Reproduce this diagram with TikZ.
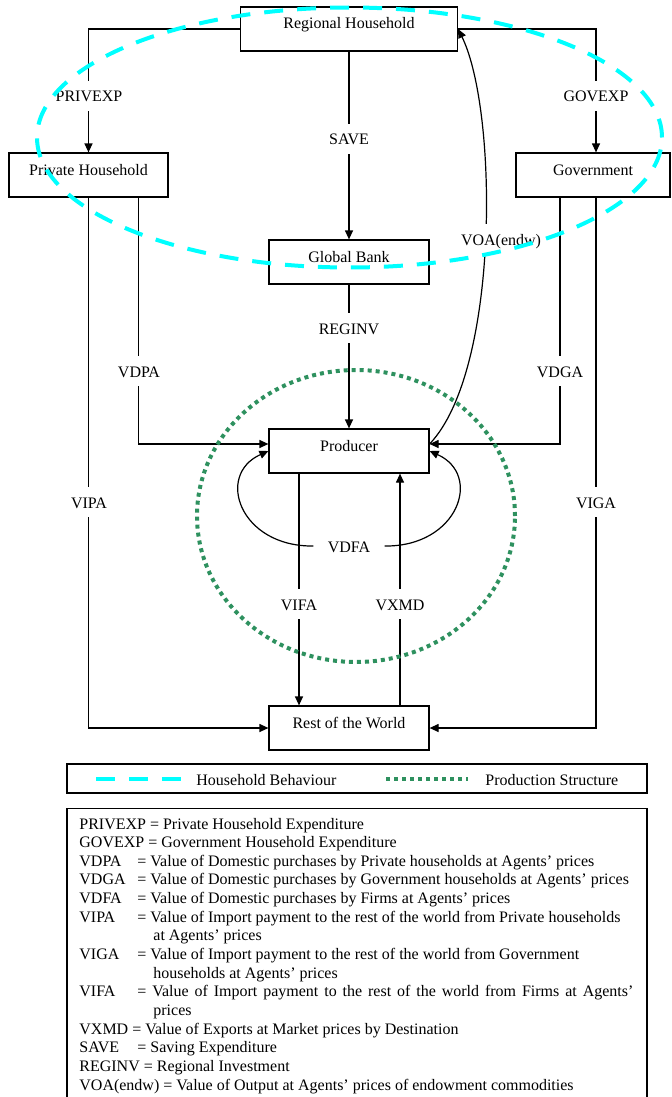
\documentclass[tikz,border=0pt]{standalone}
\usepackage{fontspec}
\setmainfont{Liberation Serif}
\usetikzlibrary{arrows.meta}
\definecolor{hhcyan}{RGB}{0,255,255}
\definecolor{prodgreen}{RGB}{46,145,95}
\begin{document}
\begin{tikzpicture}[x=0.5pt,y=0.5pt,
  every node/.style={font=\fontsize{8}{9.33}\selectfont},
  box/.style={draw,line width=0.6pt,minimum height=22pt,inner sep=0pt,text height=4pt,text depth=4pt},
  lbl/.style={fill=white,inner xsep=2pt,inner ysep=3.5pt,text height=7pt,text depth=1pt},
  flow/.style={line width=0.6pt,-{Triangle[length=4.5pt,width=4pt]}},
  hhline/.style={hhcyan,line width=2pt,dash pattern=on 9.5pt off 7pt},
  prodline/.style={prodgreen,line width=2pt,dash pattern=on 2pt off 2pt},
  keyline/.style={anchor=base west,inner sep=0pt}]
\useasboundingbox (0,0) rectangle (672,-1097);
\node[box,minimum width=108.5pt] (rh) at (349,-29) {Regional Household};
\node[box,minimum width=79.5pt] (ph) at (88.5,-175) {Private Household};
\node[box,minimum width=77pt] (gov) at (593,-175) {Government};
\node[box,minimum width=80pt] (gb) at (349,-262) {Global Bank};
\node[box,minimum width=80pt] (prod) at (349,-451) {Producer};
\node[box,minimum width=80pt] (row) at (349,-728) {Rest of the World};
\draw[flow] (rh.west) -| (ph.north);
\draw[flow] (rh.east) -| ([xshift=1.5pt]gov.north);
\draw[flow] (rh) -- (gb);
\draw[flow] (gb) -- (prod);
\draw[flow] ([xshift=25pt]ph.south) |- ([yshift=3.5pt]prod.west);
\draw[flow] ([xshift=-16.5pt]gov.south) |- ([yshift=3.5pt]prod.east);
\draw[flow] (ph.south) |- (row.west);
\draw[flow] ([xshift=1.5pt]gov.south) |- (row.east);
\draw[flow] ([xshift=-25pt]prod.south) -- ([xshift=-25pt]row.north);
\draw[flow] ([xshift=25.5pt]row.north) -- ([xshift=25.5pt]prod.south);
\node[lbl] (vdfa) at (349,-546) {VDFA};
\draw[flow] ([xshift=-5pt]vdfa.west) .. controls (240,-547) and (215,-475) .. (prod.west);
\draw[flow] ([xshift=5pt]vdfa.east) .. controls (458,-547) and (483,-475) .. (prod.east);
\draw[flow] ([yshift=3.5pt]prod.east) .. controls (500,-370) and (498,-110) .. (rh.east);
\node[lbl] (privexp) at (89,-96) {PRIVEXP};
\node[lbl] (govexp) at (596,-96) {GOVEXP};
\node[lbl] (save) at (349,-139) {SAVE};
\node[lbl] (reginv) at (349,-328) {REGINV};
\node[lbl] (vdpa) at (139,-371) {VDPA};
\node[lbl] (vdga) at (560,-371) {VDGA};
\node[lbl] (vipa) at (89,-502) {VIPA};
\node[lbl] (viga) at (596,-502) {VIGA};
\node[lbl] (vifa) at (299,-604) {VIFA};
\node[lbl] (vxmd) at (400,-604) {VXMD};
\node[lbl] (voa) at (501,-239) {VOA(endw)};
\draw[prodline] (356,-516) ellipse [x radius=159,y radius=146];
\draw[hhline] (349.5,-137.5) ellipse [x radius=312.5,y radius=130];
\node[draw,line width=0.6pt,minimum width=290pt,minimum height=14.5pt,inner sep=0pt] (legend) at (357,-778.5) {};
\draw[hhline] (96,-779) -- (183,-779);
\node[keyline] (hhtext) at (196,-785) {Household Behaviour};
\draw[prodline] (386,-779) -- (468,-779);
\node[keyline] (prodtext) at (485,-785) {Production Structure};
\node[draw,line width=0.6pt,minimum width=290pt,minimum height=150pt,inner sep=0pt,anchor=north] (keybox) at (357,-808) {};
\foreach \entry [count=\i from 0] in {
  {PRIVEXP = Private Household Expenditure},
  {GOVEXP = Government Household Expenditure},
  {\makebox[29pt][l]{VDPA}= Value of Domestic purchases by Private households at Agents’ prices},
  {\makebox[29pt][l]{VDGA}= Value of Domestic purchases by Government households at Agents’ prices},
  {\makebox[29pt][l]{VDFA}= Value of Domestic purchases by Firms at Agents’ prices},
  {\makebox[29pt][l]{VIPA}= Value of Import payment to the rest of the world from Private households},
  {\hspace*{37pt}at Agents’ prices},
  {\makebox[29pt][l]{VIGA}= Value of Import payment to the rest of the world from Government},
  {\hspace*{37pt}households at Agents’ prices},
  {\makebox[29pt][l]{VIFA}\makebox[248pt][s]{= Value of Import payment to the rest of the world from Firms at Agents’}},
  {\hspace*{37pt}prices},
  {VXMD = Value of Exports at Market prices by Destination},
  {\makebox[29pt][l]{SAVE}= Saving Expenditure},
  {REGINV = Regional Investment},
  {VOA(endw) = Value of Output at Agents’ prices of endowment commodities}}
  \node[keyline] (key\i) at (79,{-829-18.65*\i}) {\entry};
\end{tikzpicture}
\end{document}
